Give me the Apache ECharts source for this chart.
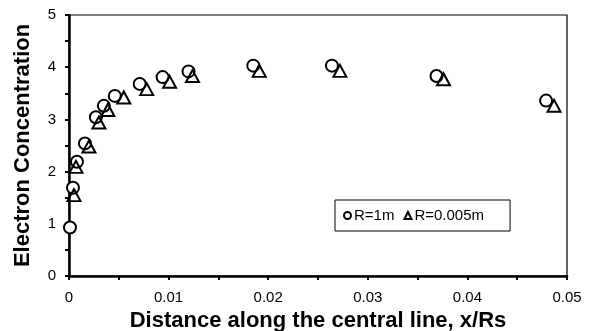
<!DOCTYPE html>
<html><head><meta charset="utf-8">
<script src="https://cdn.jsdelivr.net/npm/echarts@6/dist/echarts.min.js"></script>
<style>html,body{margin:0;padding:0;background:#fff}#c{width:594px;height:331px}</style>
</head><body><div id="c"></div>
<script>
const circleX = [0.0001,0.0004,0.0008,0.0016,0.0027,0.0035,0.0046,0.0071,0.0094,0.0120,0.0185,0.0264,0.0369,0.0479];
const circleY = [0.93,1.69,2.19,2.54,3.04,3.26,3.45,3.68,3.81,3.92,4.03,4.03,3.83,3.36];
const triX = [0.0005,0.0007,0.0020,0.0030,0.0039,0.0055,0.0078,0.0101,0.0124,0.0191,0.0272,0.0376,0.0487];
const triY = [1.55,2.09,2.48,2.94,3.18,3.42,3.58,3.72,3.83,3.93,3.93,3.77,3.26];
const seriesNames = ['R=1m','R=0.005m'];

const chart = echarts.init(document.getElementById('c'), null, {renderer:'canvas'});
const font = 'Arial, "Liberation Sans", sans-serif';
chart.setOption({
  animation:false,
  backgroundColor:'#fff',
  grid:{left:69,top:15,right:27,bottom:55,show:true,borderColor:'#000',borderWidth:1.2,
        outerBoundsMode:'none',containLabel:false},
  legend:{
    left:335, top:200,
    borderColor:'#000', borderWidth:1, padding:[8,26,8,8],
    itemWidth:7, itemHeight:7, itemGap:9,
    textStyle:{fontFamily:font,fontSize:15,color:'#000',padding:[0,0,0,-2]},
    data:[
      {name:seriesNames[0],icon:'circle',itemStyle:{color:'#fff',borderColor:'#000',borderWidth:2}},
      {name:seriesNames[1],icon:'triangle',itemStyle:{color:'#fff',borderColor:'#000',borderWidth:2}}
    ]
  },
  xAxis:{
    type:'value',min:0,max:0.05,interval:0.005,
    name:'Distance along the central line, x/Rs',nameLocation:'middle',nameGap:28,
    nameTextStyle:{fontFamily:font,fontSize:22,fontWeight:'bold',color:'#000'},
    axisLine:{lineStyle:{color:'#000',width:2.5}},
    axisTick:{show:true,length:4,lineStyle:{color:'#000',width:2}},
    axisLabel:{fontFamily:font,fontSize:15,color:'#000',margin:14,
      formatter:v=>{const k=Math.round(v*1000);return k%10===0?(k===0?'0':String(k/1000)):'';}},
    splitLine:{show:false}
  },
  yAxis:{
    type:'value',min:0,max:5,interval:0.5,
    name:'Electron Concentration',nameLocation:'middle',nameGap:35,
    nameTextStyle:{fontFamily:font,fontSize:22,fontWeight:'bold',color:'#000'},
    axisLine:{show:true,lineStyle:{color:'#000',width:2.5}},
    axisTick:{show:true,length:4,lineStyle:{color:'#000',width:2}},
    axisLabel:{fontFamily:font,fontSize:15,color:'#000',margin:13,
      formatter:v=>{const k=Math.round(v*10);return k%10===0?String(k/10):'';}},
    splitLine:{show:false}
  },
  series:[
    {name:seriesNames[0],type:'scatter',symbol:'circle',symbolSize:12,
     itemStyle:{color:'#fff',borderColor:'#000',borderWidth:2,opacity:1},
     data:circleX.map((x,i)=>[x,circleY[i]])},
    {name:seriesNames[1],type:'scatter',symbol:'triangle',symbolSize:[13,12],
     itemStyle:{color:'rgba(255,255,255,0)',borderColor:'#000',borderWidth:2,opacity:1},
     data:triX.map((x,i)=>[x,triY[i]])}
  ]
});
</script></body></html>
